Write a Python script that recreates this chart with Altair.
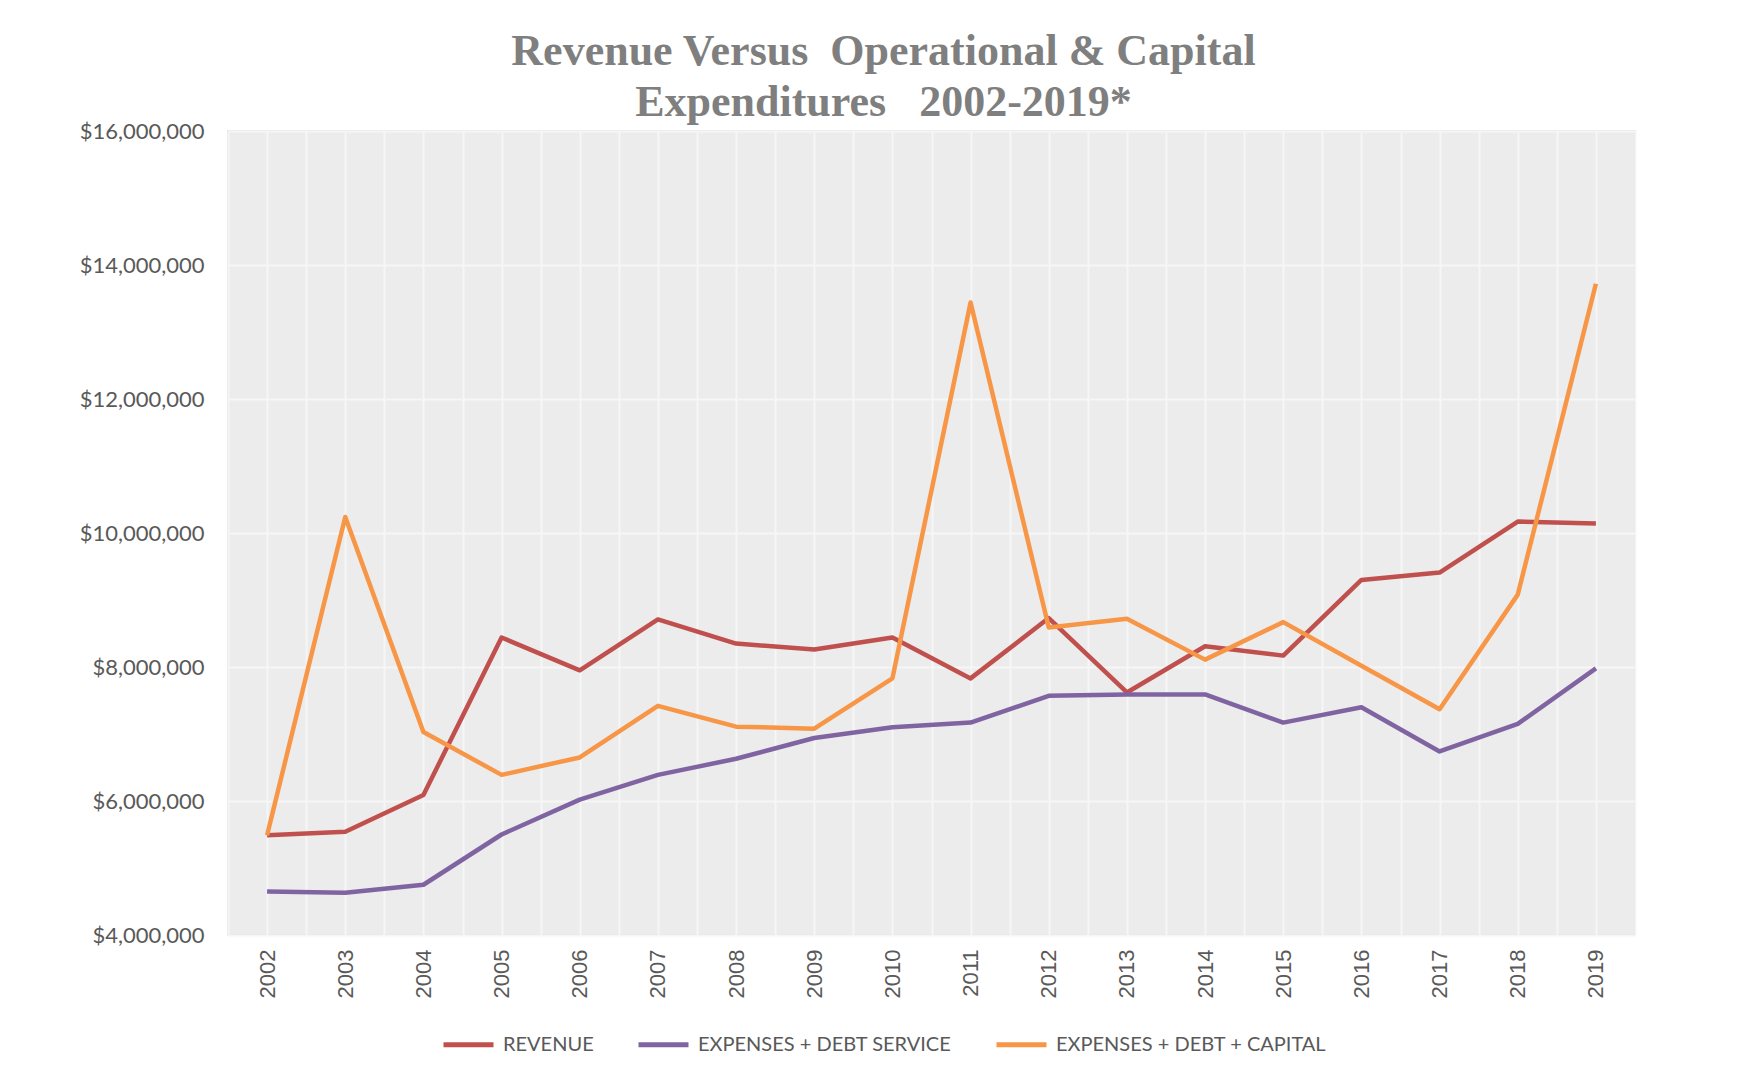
import altair as alt
import pandas as pd

# ---------------- data ----------------
years = list(range(2002, 2020))
revenue = [5.49, 5.54, 6.09, 8.44, 7.95, 8.71, 8.35, 8.26, 8.44,
           7.83, 8.73, 7.62, 8.31, 8.17, 9.30, 9.41, 10.17, 10.14]
debt_service = [4.65, 4.63, 4.75, 5.50, 6.02, 6.39, 6.63, 6.94, 7.10,
                7.17, 7.57, 7.59, 7.59, 7.17, 7.40, 6.74, 7.15, 7.98]
debt_capital = [5.49, 10.24, 7.03, 6.39, 6.65, 7.42, 7.11, 7.08, 7.83,
                13.44, 8.59, 8.72, 8.11, 8.67, 8.02, 7.37, 9.08, 13.72]
series_names = ["REVENUE", "EXPENSES + DEBT SERVICE", "EXPENSES + DEBT + CAPITAL"]
series_colors = ["#C0504D", "#8064A2", "#F79646"]
y_ticks = [4000000, 6000000, 8000000, 10000000, 12000000, 14000000, 16000000]
title_lines = ["Revenue Versus\u00a0 Operational & Capital",
               "Expenditures \u00a0 2002-2019*"]

rows = []
for name, vals in zip(series_names, [revenue, debt_service, debt_capital]):
    for y, v in zip(years, vals):
        rows.append({"Year": y, "Value": v * 1_000_000, "Series": name})
df = pd.DataFrame(rows)

# ---------------- layout ----------------
W, H = 1407, 804
x_domain = [years[0] - 0.5, years[-1] + 0.5]
x_grid_values = [y + d for y in years for d in (-0.5, 0.0)] + [years[-1] + 0.5]

lines = alt.Chart(df).mark_line(strokeWidth=4.5, strokeJoin="round").encode(
    x=alt.X("Year:Q",
            scale=alt.Scale(domain=x_domain, nice=False, zero=False),
            axis=alt.Axis(values=x_grid_values, title=None, labelAngle=270,
                          labelExpr="datum.value % 1 == 0 ? '' + datum.value : ''",
                          labelFont="Liberation Sans", labelFontSize=22,
                          labelColor="#595959", labelPadding=14,
                          labelOverlap=False, labelFlush=False,
                          ticks=False, tickSize=0, domain=False, grid=True)),
    y=alt.Y("Value:Q",
            scale=alt.Scale(domain=[y_ticks[0], y_ticks[-1]], nice=False, zero=False),
            axis=alt.Axis(values=y_ticks, format="$,.0f", title=None,
                          labelFont="Lato", labelFontSize=22, labelColor="#595959",
                          labelPadding=24, ticks=False, tickSize=0, domain=False,
                          grid=True)),
    color=alt.Color("Series:N",
                    scale=alt.Scale(domain=series_names, range=series_colors),
                    sort=series_names,
                    legend=alt.Legend(orient="none", legendX=213, legendY=886,
                                      direction="horizontal", title=None,
                                      symbolType="stroke", symbolSize=2500,
                                      symbolStrokeWidth=5, labelFont="Lato",
                                      labelFontSize=20, labelColor="#595959",
                                      labelOffset=7, columnPadding=34,
                                      labelLimit=400)),
)

chart = lines.properties(
    width=W, height=H,
    title=alt.TitleParams(text=title_lines, font="Liberation Serif", fontSize=44,
                          fontWeight="bold", color="#7F7F7F", anchor="middle",
                          dx=-48, offset=-5, lineHeight=51),
    autosize=alt.AutoSizeParams(type="none"),
    padding={"left": 220, "top": 123, "right": 109, "bottom": 133},
    background="white",
).configure_view(
    stroke="#D9D9D9", strokeWidth=1.5, fill="#ECECEC"
).configure_axis(
    gridColor="#F6F6F6", gridWidth=2
)

chart.save("out.html", embed_options={"renderer": "svg", "actions": False})
